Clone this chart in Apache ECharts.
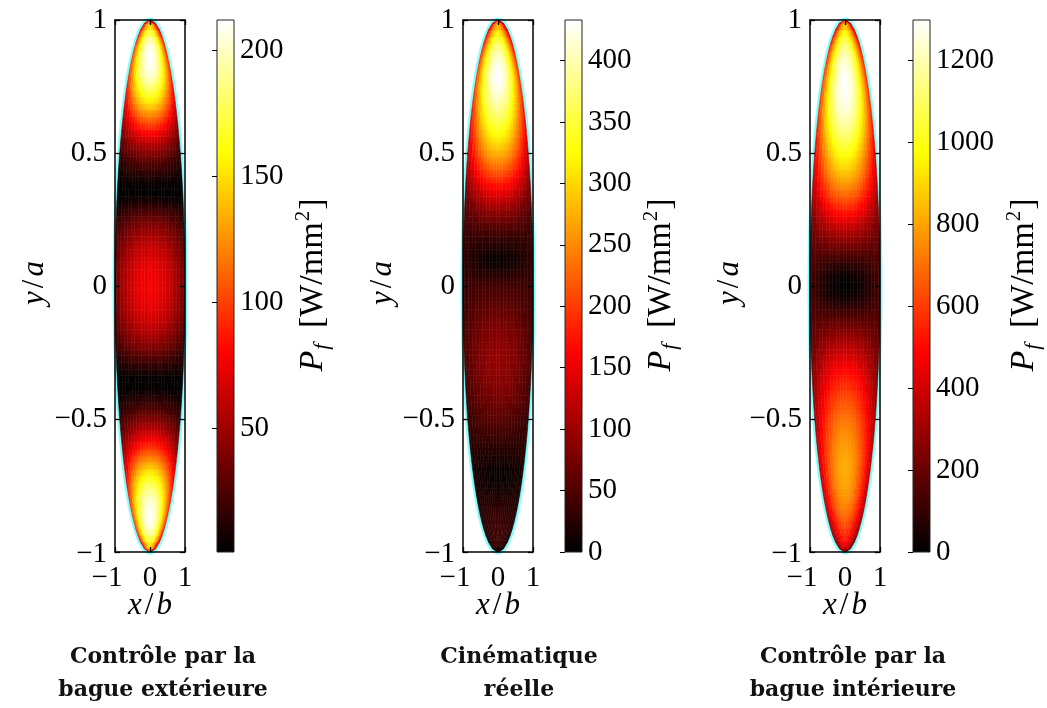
<!DOCTYPE html>
<html>
<head>
<meta charset="utf-8">
<script src="https://cdn.jsdelivr.net/npm/echarts@6/dist/echarts.min.js"></script>
<style>
html, body { margin: 0; padding: 0; background: #fff; }
#chart { width: 1047px; height: 708px; }
</style>
</head>
<body>
<div id="chart"></div>
<script>
// Sampling step of the profiles along y/a (rows run from y/a = -1 to y/a = 1)
const yStep = 0.025;

// Frictional power density P_f [W/mm²] along the centre line x/b = 0
const centreOuter = [
  122, 152, 177, 196, 207, 211, 210, 206, 200, 191,
  180, 167, 153, 138, 122, 106, 91, 77, 64, 52,
  41, 31, 22, 14, 7, 2, 2, 8, 16, 25,
  34, 42, 49, 56, 61, 66, 70, 73, 75, 76,
  76,
  76, 75, 73, 70, 66, 62, 56, 50, 43, 35,
  26, 16, 7, 1, 3, 8, 15, 23, 32, 43,
  54, 67, 81, 96, 111, 127, 143, 158, 172, 185,
  196, 205, 210, 212, 211, 207, 195, 175, 150, 120
];
const centreKinematic = [
  30, 33, 36, 38, 38, 36, 33, 28, 22, 15,
  9, 5, 6, 10, 15, 21, 28, 35, 42, 49,
  56, 62, 68, 74, 79, 83, 87, 90, 92, 93,
  92, 90, 87, 83, 78, 73, 67, 61, 55, 49,
  43,
  33, 22, 11, 5, 12, 22, 30, 42, 56, 72,
  89, 107, 127, 148, 170, 192, 214, 236, 256, 276,
  294, 312, 329, 346, 362, 377, 392, 405, 416, 426,
  432, 433, 428, 418, 402, 380, 352, 318, 280, 240
];
const centreInner = [
  400, 464, 525, 580, 629, 672, 709, 740, 765, 785,
  799, 808, 812, 811, 806, 797, 784, 768, 750, 730,
  708, 684, 659, 632, 603, 573, 541, 507, 471, 433,
  393, 352, 310, 265, 220, 175, 130, 85, 45, 15,
  2,
  12, 38, 73, 116, 170, 222, 276, 332, 390, 452,
  515, 578, 640, 700, 757, 810, 860, 907, 951, 995,
  1040, 1085, 1128, 1168, 1204, 1236, 1262, 1281, 1293, 1297,
  1294, 1283, 1263, 1233, 1192, 1138, 1068, 980, 870, 740
];

// P_f [W/mm²] along the rim of the contact ellipse, same rows
const rimOuter = [
  55, 68, 80, 88, 93, 95, 95, 93, 90, 86,
  81, 75, 69, 62, 55, 48, 41, 35, 29, 23,
  18, 14, 10, 6, 3, 1, 1, 4, 7, 11,
  15, 19, 22, 25, 27, 30, 32, 33, 34, 34,
  34,
  34, 34, 33, 32, 30, 28, 25, 23, 19, 16,
  12, 7, 3, 1, 1, 4, 7, 10, 14, 19,
  24, 30, 36, 43, 50, 57, 64, 71, 77, 83,
  88, 92, 95, 95, 95, 93, 88, 79, 68, 54
];
const rimKinematic = [
  20, 21, 22, 23, 23, 23, 22, 21, 20, 19,
  18, 18, 19, 20, 22, 24, 26, 28, 30, 32,
  34, 36, 38, 40, 42, 43, 44, 45, 46, 46,
  46, 46, 45, 44, 43, 42, 41, 40, 39, 38,
  37,
  36, 35, 34, 33, 33, 33, 34, 36, 39, 43,
  48, 54, 60, 67, 76, 86, 96, 106, 115, 124,
  132, 140, 148, 156, 163, 170, 176, 182, 187, 192,
  194, 195, 193, 188, 181, 171, 158, 143, 126, 108
];
const rimInner = [
  180, 209, 236, 261, 283, 302, 319, 333, 344, 353,
  360, 364, 365, 365, 363, 359, 353, 346, 338, 329,
  319, 308, 297, 284, 271, 258, 245, 232, 220, 208,
  197, 187, 178, 170, 163, 157, 152, 148, 146, 145,
  145,
  146, 148, 151, 155, 160, 166, 175, 186, 200, 218,
  238, 260, 288, 315, 341, 365, 387, 408, 428, 448,
  468, 488, 508, 526, 542, 556, 568, 576, 582, 584,
  582, 577, 568, 555, 536, 512, 481, 441, 392, 333
];

// How far each slice sits between centre (0) and rim (1), at |x| / half-width = 0, 0.1, ..., 1
const lateralBlend = [0, 0.01, 0.04, 0.09, 0.16, 0.26, 0.37, 0.50, 0.65, 0.82, 1.0];

// Colour-bar limits and tick values for each panel
const colorbarRanges = [[1, 212], [0, 433], [0, 1298]];
const colorbarTicks = [
  [50, 100, 150, 200],
  [0, 50, 100, 150, 200, 250, 300, 350, 400],
  [0, 200, 400, 600, 800, 1000, 1200]
];

// Panel captions
const captions = [
  ['Contrôle par la', 'bague extérieure'],
  ['Cinématique', 'réelle'],
  ['Contrôle par la', 'bague intérieure']
];

const centres = [centreOuter, centreKinematic, centreInner];
const rims = [rimOuter, rimKinematic, rimInner];

// MATLAB "hot" colour map, sampled every 1/8
const hotColors = ['#000000', '#550000', '#aa0000', '#ff0000', '#ff5500', '#ffaa00', '#ffff00', '#ffff80', '#ffffff'];

// Layout of the three panels
const plotLefts = [115, 463, 810];
const plotWidth = 70;
const barLefts = [217, 565, 913];
const barWidth = 17;
const plotTop = 20;
const plotHeight = 532;
const yaLabelX = [35, 383, 730];
const pfLabelX = [313, 661, 1024];
const captionX = [163, 519, 853];

const SERIF = 'Liberation Serif';
const MINUS = '\u2212';

function halfWidth(y) {
  return Math.sqrt(Math.max(0, 1 - y * y));
}

function cellValue(k, i, j) {
  const c = centres[k][i];
  const e = rims[k][i];
  return c + (e - c) * lateralBlend[Math.abs(j)];
}

// Cells of the contact ellipse: row i (along y/a), slice j (across the half-width)
function buildCells(k) {
  const cells = [];
  for (let i = 0; i < centres[k].length; i++) {
    const y = -1 + i * yStep;
    const w = halfWidth(y);
    for (let j = -10; j <= 10; j++) {
      cells.push([(j / 10) * w, y, cellValue(k, i, j), j, i]);
    }
  }
  return cells;
}

function hotLerp(t) {
  if (echarts.color && echarts.color.lerp) {
    return echarts.color.lerp(t, hotColors);
  }
  const n = hotColors.length - 1;
  const p = Math.min(n - 1, Math.floor(t * n));
  const f = t * n - p;
  const a = echarts.color.parse(hotColors[p]);
  const b = echarts.color.parse(hotColors[p + 1]);
  return 'rgb(' + [0, 1, 2].map(q => Math.round(a[q] + (b[q] - a[q]) * f)).join(',') + ')';
}

function makeCellRenderer(k) {
  const lo = colorbarRanges[k][0];
  const hi = colorbarRanges[k][1];
  const n = centres[k].length;
  const colorOf = v => hotLerp(Math.min(1, Math.max(0, (v - lo) / (hi - lo))));
  return function (params, api) {
    const v = api.value(2);
    const j = api.value(3);
    const i = api.value(4);
    const yc = -1 + i * yStep;
    const y0 = Math.max(-1, yc - yStep / 2);
    const y1 = Math.min(1, yc + yStep / 2);
    const r0 = Math.max(-1, j / 10 - 0.05);
    const r1 = Math.min(1, j / 10 + 0.05);
    const w0 = halfWidth(y0);
    const w1 = halfWidth(y1);
    const points = [
      api.coord([r0 * w0, y0]),
      api.coord([r1 * w0, y0]),
      api.coord([r1 * w1, y1]),
      api.coord([r0 * w1, y1])
    ];
    // shade each row towards its neighbours so rows blend into one another
    const vBelow = i > 0 ? (v + cellValue(k, i - 1, j)) / 2 : v;
    const vAbove = i < n - 1 ? (v + cellValue(k, i + 1, j)) / 2 : v;
    const fill = {
      type: 'linear', x: 0, y: 1, x2: 0, y2: 0,
      colorStops: [
        { offset: 0, color: colorOf(vBelow) },
        { offset: 0.5, color: colorOf(v) },
        { offset: 1, color: colorOf(vAbove) }
      ]
    };
    return {
      type: 'polygon',
      shape: { points: points },
      style: { fill: fill, stroke: colorOf(v), lineWidth: 0.5 }
    };
  };
}

// Contact ellipse outline
function renderOutline(params, api) {
  const points = [];
  for (let t = 0; t <= 360; t += 2) {
    const a = t * Math.PI / 180;
    points.push(api.coord([Math.cos(a), Math.sin(a)]));
  }
  return {
    type: 'polyline',
    shape: { points: points },
    style: { fill: null, stroke: '#80ffff', lineWidth: 5 }
  };
}

// Colour bar drawn through its own value axis
function renderBar(params, api) {
  const p0 = api.coord([0, api.value(1)]);
  const p1 = api.coord([1, api.value(2)]);
  return {
    type: 'rect',
    shape: { x: p0[0], y: p1[1], width: p1[0] - p0[0], height: p0[1] - p1[1] },
    style: {
      fill: {
        type: 'linear', x: 0, y: 1, x2: 0, y2: 0,
        colorStops: hotColors.map((c, q) => ({ offset: q / (hotColors.length - 1), color: c }))
      }
    }
  };
}

function fmtTick(v) {
  return String(v).replace('-', MINUS);
}

const axisLineStyle = { show: true, onZero: false, lineStyle: { color: '#000', width: 1.5 } };
const tickStyle = { show: true, inside: true, length: 5, lineStyle: { color: '#000', width: 1.3 } };
const labelFont = { color: '#000', fontFamily: SERIF, fontSize: 29 };

const grid = [];
const xAxis = [];
const yAxis = [];
const series = [];
const graphic = [];

for (let k = 0; k < 3; k++) {
  // plot grid (index 2k) and colour-bar grid (index 2k+1)
  grid.push({ left: plotLefts[k], top: plotTop, width: plotWidth, height: plotHeight, containLabel: false });
  grid.push({ left: barLefts[k], top: plotTop, width: barWidth, height: plotHeight, containLabel: false,
              show: true, z: 10, borderColor: '#222', borderWidth: 1, backgroundColor: 'transparent' });

  xAxis.push({
    type: 'value', gridIndex: 2 * k, position: 'bottom', min: -1, max: 1, interval: 1, z: 10,
    axisLine: axisLineStyle, axisTick: tickStyle, splitLine: { show: false },
    axisLabel: Object.assign({}, labelFont, {
      margin: 12,
      formatter: v => v < 0 ? '{neg|' + fmtTick(v) + '}' : fmtTick(v),
      rich: { neg: { fontFamily: SERIF, fontSize: 29, color: '#000', padding: [0, 16, 0, 0] } }
    })
  });
  xAxis.push({
    type: 'value', gridIndex: 2 * k, position: 'top', min: -1, max: 1, interval: 1, z: 10,
    axisLine: axisLineStyle, axisTick: tickStyle, splitLine: { show: false }, axisLabel: { show: false }
  });
  xAxis.push({ type: 'value', gridIndex: 2 * k + 1, min: 0, max: 1, show: false });

  yAxis.push({
    type: 'value', gridIndex: 2 * k, position: 'left', min: -1, max: 1, interval: 0.5, z: 10,
    axisLine: axisLineStyle, axisTick: tickStyle, splitLine: { show: false },
    axisLabel: Object.assign({}, labelFont, {
      margin: 8,
      formatter: v => v === -1 ? '{low|' + fmtTick(v) + '}' : fmtTick(v),
      rich: { low: { fontFamily: SERIF, fontSize: 29, color: '#000', padding: [4, 0, 0, 0] } }
    })
  });
  yAxis.push({
    type: 'value', gridIndex: 2 * k, position: 'right', min: -1, max: 1, interval: 0.5, z: 10,
    axisLine: axisLineStyle, axisTick: tickStyle, splitLine: { show: false }, axisLabel: { show: false }
  });
  yAxis.push({
    type: 'value', gridIndex: 2 * k + 1, position: 'right',
    min: colorbarRanges[k][0], max: colorbarRanges[k][1], z: 10,
    axisLine: { show: false }, splitLine: { show: false },
    axisTick: { show: true, inside: true, length: 5, lineStyle: { color: '#000', width: 1 }, customValues: colorbarTicks[k] },
    axisLabel: Object.assign({}, labelFont, { margin: 6, customValues: colorbarTicks[k], formatter: v => String(v) })
  });
}

for (let k = 0; k < 3; k++) {
  series.push({
    type: 'custom', name: 'Pf' + k, xAxisIndex: 3 * k, yAxisIndex: 3 * k, z: 3,
    renderItem: makeCellRenderer(k), data: buildCells(k), silent: true
  });
  series.push({
    type: 'custom', xAxisIndex: 3 * k, yAxisIndex: 3 * k, z: 2,
    renderItem: renderOutline, data: [[0, 0]], silent: true
  });
  series.push({
    type: 'custom', xAxisIndex: 3 * k + 2, yAxisIndex: 3 * k + 2, z: 2,
    renderItem: renderBar, data: [[0, colorbarRanges[k][0], colorbarRanges[k][1]]], silent: true
  });

  const cx = plotLefts[k] + plotWidth / 2;
  const mathRich = {
    i: { fontFamily: SERIF, fontStyle: 'italic', fontSize: 31, fill: '#000' },
    s: { fontFamily: SERIF, fontSize: 31, fill: '#000', padding: [0, 3, 0, 3] }
  };
  graphic.push({
    type: 'text', x: yaLabelX[k], y: 283, rotation: Math.PI / 2,
    style: { text: '{i|y}{s|/}{i|a}', align: 'center', verticalAlign: 'middle', rich: mathRich }
  });
  graphic.push({
    type: 'text', x: cx, y: 606,
    style: { text: '{i|x}{s|/}{i|b}', align: 'center', verticalAlign: 'middle', rich: mathRich }
  });
  graphic.push({
    type: 'text', x: pfLabelX[k], y: 285, rotation: Math.PI / 2,
    style: {
      text: '{p|P}{f|f}{n| [W/mm}{u|2}{n|]}', align: 'center', verticalAlign: 'middle',
      rich: {
        p: { fontFamily: SERIF, fontStyle: 'italic', fontSize: 34, lineHeight: 40, fill: '#000' },
        f: { fontFamily: SERIF, fontStyle: 'italic', fontSize: 22, lineHeight: 22, verticalAlign: 'bottom', fill: '#000', padding: [0, 7, 0, 1] },
        n: { fontFamily: SERIF, fontSize: 34, lineHeight: 40, fill: '#000' },
        u: { fontFamily: SERIF, fontSize: 21, lineHeight: 21, verticalAlign: 'top', fill: '#000', padding: [0, 1, 0, 1] }
      }
    }
  });
  captions[k].forEach((line, m) => {
    graphic.push({
      type: 'text', x: captionX[k], y: 657 + m * 33,
      style: {
        text: line, align: 'center', verticalAlign: 'middle',
        fontFamily: 'DejaVu Serif', fontWeight: 'bold', fontSize: 22, fill: '#111'
      }
    });
  });
}

const chart = echarts.init(document.getElementById('chart'), null, { renderer: 'canvas' });
chart.setOption({
  animation: false,
  backgroundColor: '#fff',
  grid: grid,
  xAxis: xAxis,
  yAxis: yAxis,
  series: series,
  graphic: graphic
});
</script>
</body>
</html>
